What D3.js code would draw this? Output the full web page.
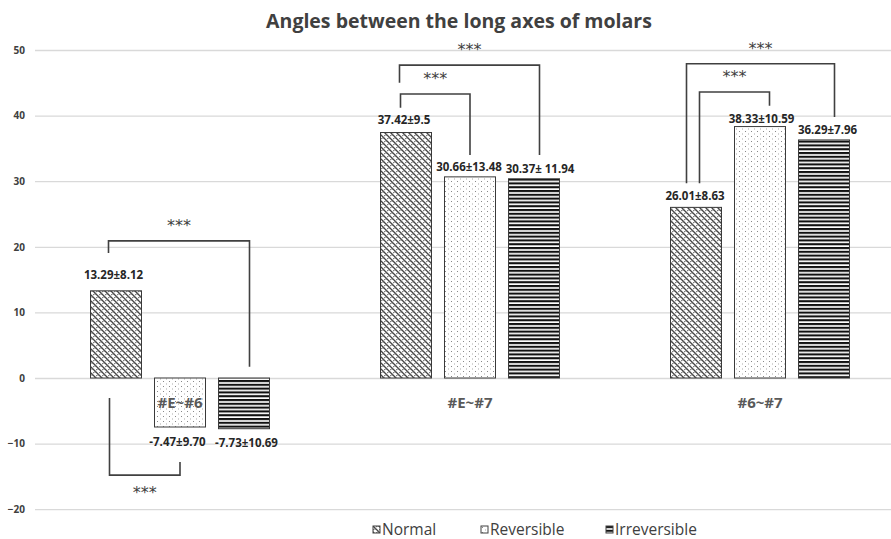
<!DOCTYPE html>
<html>
<head>
<meta charset="utf-8">
<script src="https://cdn.jsdelivr.net/npm/d3@7"></script>
<style>
  body { margin: 0; background: #fff; }
  svg { display: block; font-family: "Open Sans", "Noto Sans", sans-serif; }
</style>
</head>
<body>
<script>
// data
var groups = ["#E~#6", "#E~#7", "#6~#7"];
var series = ["Normal", "Reversible", "Irreversible"];
var means = [
    [13.29, -7.47, -7.73],
    [37.42, 30.66, 30.37],
    [26.01, 38.33, 36.29]
];
var labels = [
    ["13.29\u00b18.12", "-7.47\u00b19.70", "-7.73\u00b110.69"],
    ["37.42\u00b19.5", "30.66\u00b113.48", "30.37\u00b1 11.94"],
    ["26.01\u00b18.63", "38.33\u00b110.59", "36.29\u00b17.96"]
];
var yTicks = [-20, -10, 0, 10, 20, 30, 40, 50];

// significance brackets: group, from/to series, leg ends and bar height in data units
var brackets = [
    {g: 0, from: 0, to: 2, fromEnd: 19.05, level: 20.9, toEnd: 1.7, mark: "***"},
    {g: 0, from: 0, to: 1, fromEnd: -3.05, level: -14.8, toEnd: -12.8, mark: "***"},
    {g: 1, from: 0, to: 1, fromEnd: 41.2, level: 43.3, toEnd: 34.0, mark: "***"},
    {g: 1, from: 0, to: 2, fromEnd: 45.0, level: 47.7, toEnd: 34.0, mark: "***"},
    {g: 2, from: 0, to: 2, fromEnd: 29.7, level: 47.9, toEnd: 39.8, mark: "***"},
    {g: 2, from: 0, to: 1, fromEnd: 29.7, level: 43.6, toEnd: 41.5, mark: "***"}
];
// small horizontal nudges of the bracket legs (px)
var legNudge = [[-7.5, 5.5], [-6.5, 0], [-5.5, 0], [-6.5, 5.5], [-9.5, 10.5], [3.5, 9.5]];
// label nudges (px) [dx, dy]
var labelNudge = [
    [[-2.5, -12], [-2.5, 19], [2.5, 18]],
    [[-2, -8.5], [-1, -6], [6, -6]],
    [[-1, -7.5], [1.5, -4], [3.5, -6]]
];

var W = 891, H = 539;
var svg = d3.select("body").append("svg")
    .attr("width", W)
    .attr("height", H);

// patterns
var defs = svg.append("defs");

var pN = defs.append("pattern").attr("id", "pat-normal")
    .attr("patternUnits", "userSpaceOnUse").attr("width", 6).attr("height", 6);
pN.append("rect").attr("width", 6).attr("height", 6).attr("fill", "#fff");
pN.append("path").attr("d", "M-1,-1 L7,7 M-1,5 L1,7 M5,-1 L7,1")
    .attr("stroke", "#444").attr("stroke-width", 1.3).attr("fill", "none");
pN.append("path").attr("d", "M0,4 Q1.5,2.5 3,3 M3,1 Q4.5,-0.5 6,0 M3,7 Q4.5,5.5 6,6")
    .attr("stroke", "#666").attr("stroke-width", 1).attr("fill", "none");

var pR = defs.append("pattern").attr("id", "pat-rev")
    .attr("patternUnits", "userSpaceOnUse").attr("width", 6).attr("height", 5);
pR.append("rect").attr("width", 6).attr("height", 5).attr("fill", "#fff");
pR.append("rect").attr("x", 1).attr("y", 1).attr("width", 1).attr("height", 1).attr("fill", "#888");
pR.append("rect").attr("x", 4).attr("y", 3.5).attr("width", 1).attr("height", 1).attr("fill", "#aaa");

var pI = defs.append("pattern").attr("id", "pat-irr")
    .attr("patternUnits", "userSpaceOnUse").attr("width", 4).attr("height", 3.8);
pI.append("rect").attr("width", 4).attr("height", 3.8).attr("fill", "#fff");
pI.append("rect").attr("y", 0).attr("width", 4).attr("height", 2.1).attr("fill", "#111");

var fills = ["url(#pat-normal)", "url(#pat-rev)", "url(#pat-irr)"];

var x0 = d3.scaleBand().domain(groups).range([35, 905])
    .paddingInner(98 / 290).paddingOuter(49 / 290);
var x1 = d3.scaleBand().domain(series).range([0, x0.bandwidth()])
    .paddingInner(13 / 64).paddingOuter(6.5 / 64);
var y = d3.scaleLinear().domain([-20, 50]).range([509.2, 50]);

// title
svg.append("text")
    .attr("x", 459).attr("y", 28)
    .attr("text-anchor", "middle")
    .attr("font-size", 19.5).attr("font-weight", "bold")
    .attr("fill", "#404040")
    .text("Angles between the long axes of molars");

// grid + y axis
var yAxis = svg.append("g")
    .attr("transform", "translate(35,0)")
    .call(d3.axisLeft(y).tickValues(yTicks).tickSize(-(W - 35)).tickPadding(10));
yAxis.select(".domain").remove();
yAxis.selectAll(".tick line").attr("stroke", "#d9d9d9").attr("stroke-width", 1.3);
yAxis.selectAll(".tick text")
    .attr("font-size", 10).attr("font-weight", "bold")
    .attr("fill", "#404040")
    .attr("font-family", "Open Sans, sans-serif");

// bars
var bars = [];
groups.forEach(function (g, gi) {
    series.forEach(function (s, si) {
        bars.push({g: g, gi: gi, s: s, si: si, v: means[gi][si], label: labels[gi][si]});
    });
});

function cx(gi, si) {
    return x0(groups[gi]) + x1(series[si]) + x1.bandwidth() / 2;
}

svg.append("g").selectAll("rect")
    .data(bars)
    .enter().append("rect")
    .attr("x", function (d) { return x0(d.g) + x1(d.s); })
    .attr("y", function (d) { return y(Math.max(0, d.v)); })
    .attr("width", x1.bandwidth())
    .attr("height", function (d) { return Math.abs(y(d.v) - y(0)); })
    .attr("fill", function (d) { return fills[d.si]; })
    .attr("stroke", "#3a3a3a")
    .attr("stroke-width", 1);

// category labels
svg.append("g").selectAll("text")
    .data(groups)
    .enter().append("text")
    .attr("x", function (d) { return x0(d) + x0.bandwidth() / 2; })
    .attr("y", y(0) + 30)
    .attr("text-anchor", "middle")
    .attr("font-size", 15).attr("font-weight", "bold")
    .attr("fill", "#595959")
    .text(function (d) { return d; });

// value labels
svg.append("g").selectAll("text")
    .data(bars)
    .enter().append("text")
    .attr("x", function (d) { return cx(d.gi, d.si) + labelNudge[d.gi][d.si][0]; })
    .attr("y", function (d) { return y(d.v) + labelNudge[d.gi][d.si][1]; })
    .attr("text-anchor", "middle")
    .attr("font-size", 11.5).attr("font-weight", "bold")
    .attr("fill", "#262626")
    .text(function (d) { return d.label; });

// brackets
var bg = svg.append("g");
brackets.forEach(function (b, i) {
    var xa = cx(b.g, b.from) + legNudge[i][0],
        xb = cx(b.g, b.to) + legNudge[i][1];
    bg.append("path")
        .attr("d", "M" + xa + "," + y(b.fromEnd) + "V" + y(b.level) + "H" + xb + "V" + y(b.toEnd))
        .attr("fill", "none")
        .attr("stroke", "#404040")
        .attr("stroke-width", 1.6);
    var ty = b.level > 0 ? y(b.level) - 10 : y(b.level) + 23;
    bg.append("text")
        .attr("x", (xa + xb) / 2)
        .attr("y", ty)
        .attr("text-anchor", "middle")
        .attr("font-size", 16)
        .attr("fill", "#404040")
        .attr("font-family", "DejaVu Sans, sans-serif")
        .text(b.mark);
});

// legend
var legX = [373, 481, 606];
var leg = svg.append("g").selectAll("g")
    .data(series)
    .enter().append("g")
    .attr("transform", function (d, i) { return "translate(" + legX[i] + ",526)"; });
leg.append("rect")
    .attr("width", 7).attr("height", 7)
    .attr("fill", function (d, i) { return fills[i]; })
    .attr("stroke", "#404040").attr("stroke-width", 1);
leg.append("text")
    .attr("x", 9).attr("y", 9)
    .attr("font-size", 15.5)
    .attr("fill", "#404040")
    .text(function (d) { return d; });
</script>
</body>
</html>
